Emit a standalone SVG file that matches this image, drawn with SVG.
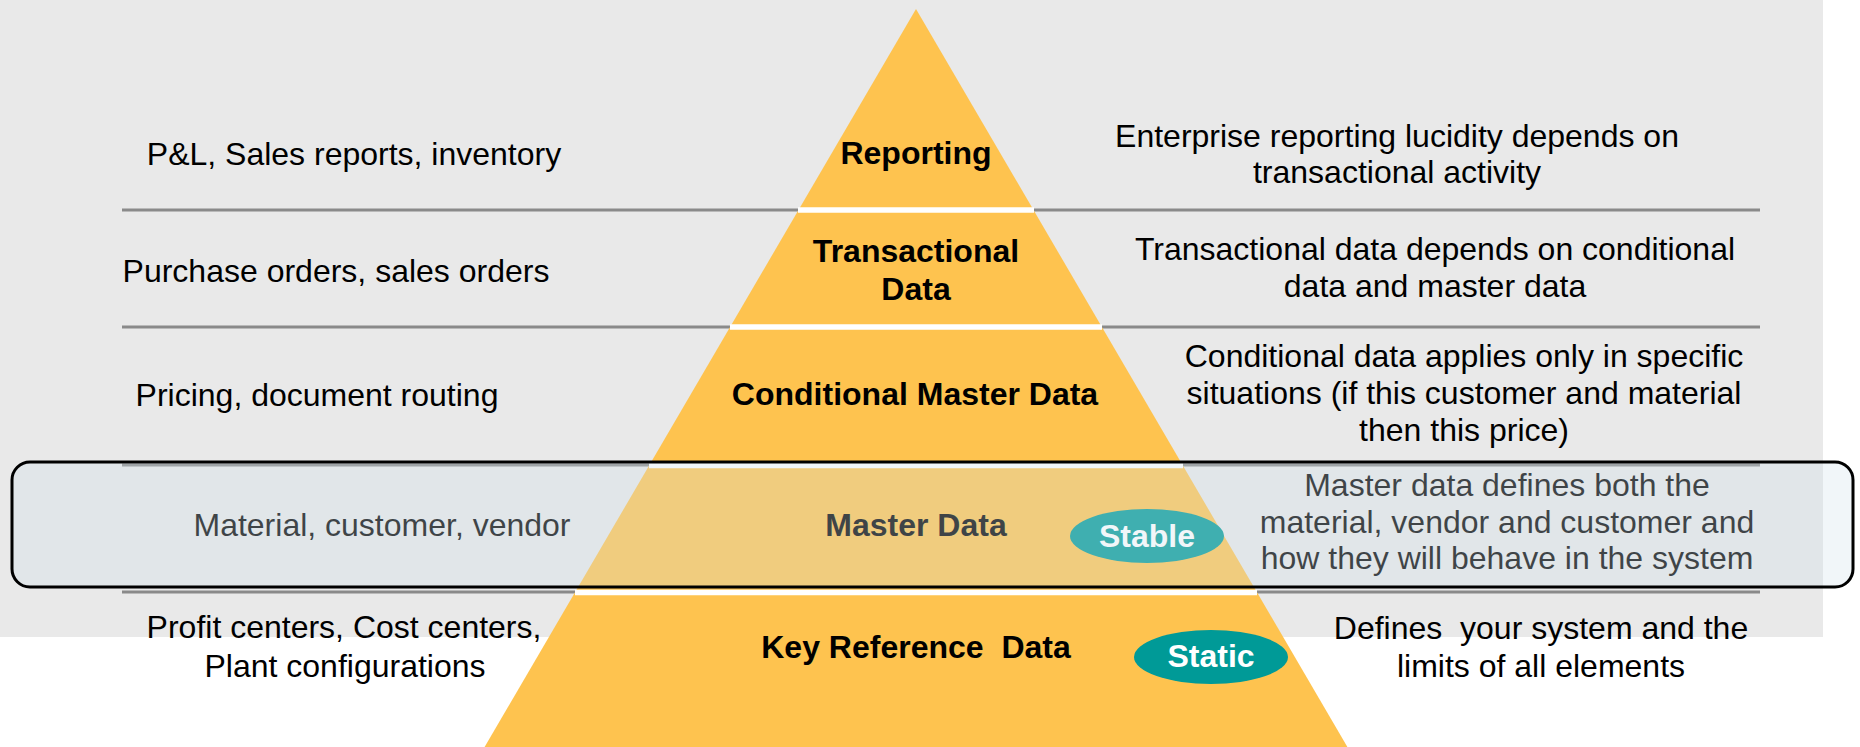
<svg xmlns="http://www.w3.org/2000/svg" width="1860" height="747" viewBox="0 0 1860 747">
<style>
.t{font-family:"Liberation Sans",Arial,sans-serif;font-size:32px;fill:#000;text-anchor:middle}
.b{font-weight:bold}
.w{fill:#fff;font-weight:bold}
.sep{stroke:#8a8a8a;stroke-width:3}
.gap{stroke:#fff;stroke-width:5.5}
.tag{fill:#009a97}
</style>
<rect x="0" y="0" width="1860" height="747" fill="#fff"/>
<rect x="0" y="0" width="1823" height="637" fill="#e9e9e9"/>
<g id="separators">
<line class="sep" x1="122" y1="210" x2="1760" y2="210"/>
<line class="sep" x1="122" y1="327" x2="1760" y2="327"/>
<line class="sep" x1="122" y1="465" x2="1760" y2="465"/>
<line class="sep" x1="122" y1="592" x2="1760" y2="592"/>
</g>
<g id="pyramid">
<polygon points="916,9 1348,748 484,748" fill="#fec34f"/>
<line class="gap" x1="798" y1="210" x2="1034" y2="210"/>
<line class="gap" x1="730" y1="327" x2="1102" y2="327"/>
<line class="gap" x1="649" y1="465.5" x2="1183" y2="465.5"/>
<line class="gap" x1="575" y1="592.5" x2="1257" y2="592.5"/>
</g>
<g id="reporting">
<text class="t b" x="916" y="164">Reporting</text>
<text class="t" x="354" y="165">P&amp;L, Sales reports, inventory</text>
<text class="t" x="1397" y="147">Enterprise reporting lucidity depends on</text>
<text class="t" x="1397" y="183">transactional activity</text>
</g>
<g id="transactional">
<text class="t b" x="916" y="262">Transactional</text>
<text class="t b" x="916" y="300">Data</text>
<text class="t" x="336" y="282">Purchase orders, sales orders</text>
<text class="t" x="1435" y="260">Transactional data depends on conditional</text>
<text class="t" x="1435" y="297">data and master data</text>
</g>
<g id="conditional">
<text class="t b" x="915" y="405">Conditional Master Data</text>
<text class="t" x="317" y="406">Pricing, document routing</text>
<text class="t" x="1464" y="367">Conditional data applies only in specific</text>
<text class="t" x="1464" y="404">situations (if this customer and material</text>
<text class="t" x="1464" y="441">then this price)</text>
</g>
<g id="master">
<text class="t b" x="916" y="536">Master Data</text>
<text class="t" x="382" y="536">Material, customer, vendor</text>
<text class="t" x="1507" y="496">Master data defines both the</text>
<text class="t" x="1507" y="533">material, vendor and customer and</text>
<text class="t" x="1507" y="569">how they will behave in the system</text>
<ellipse class="tag" cx="1147" cy="536" rx="77" ry="27"/>
<text class="t w" x="1147" y="547">Stable</text>
<rect x="12" y="462" width="1841" height="125" rx="18" fill="#cfe1ec" fill-opacity="0.3" stroke="#000" stroke-width="3"/>
</g>
<g id="keyref">
<text class="t b" x="916" y="658" xml:space="preserve">Key Reference  Data</text>
<text class="t" x="344" y="638">Profit centers, Cost centers,</text>
<text class="t" x="345" y="677">Plant configurations</text>
<text class="t" x="1541" y="639" xml:space="preserve">Defines  your system and the</text>
<text class="t" x="1541" y="677">limits of all elements</text>
<ellipse class="tag" cx="1211" cy="657" rx="77" ry="27"/>
<text class="t w" x="1211" y="667">Static</text>
</g>
</svg>
